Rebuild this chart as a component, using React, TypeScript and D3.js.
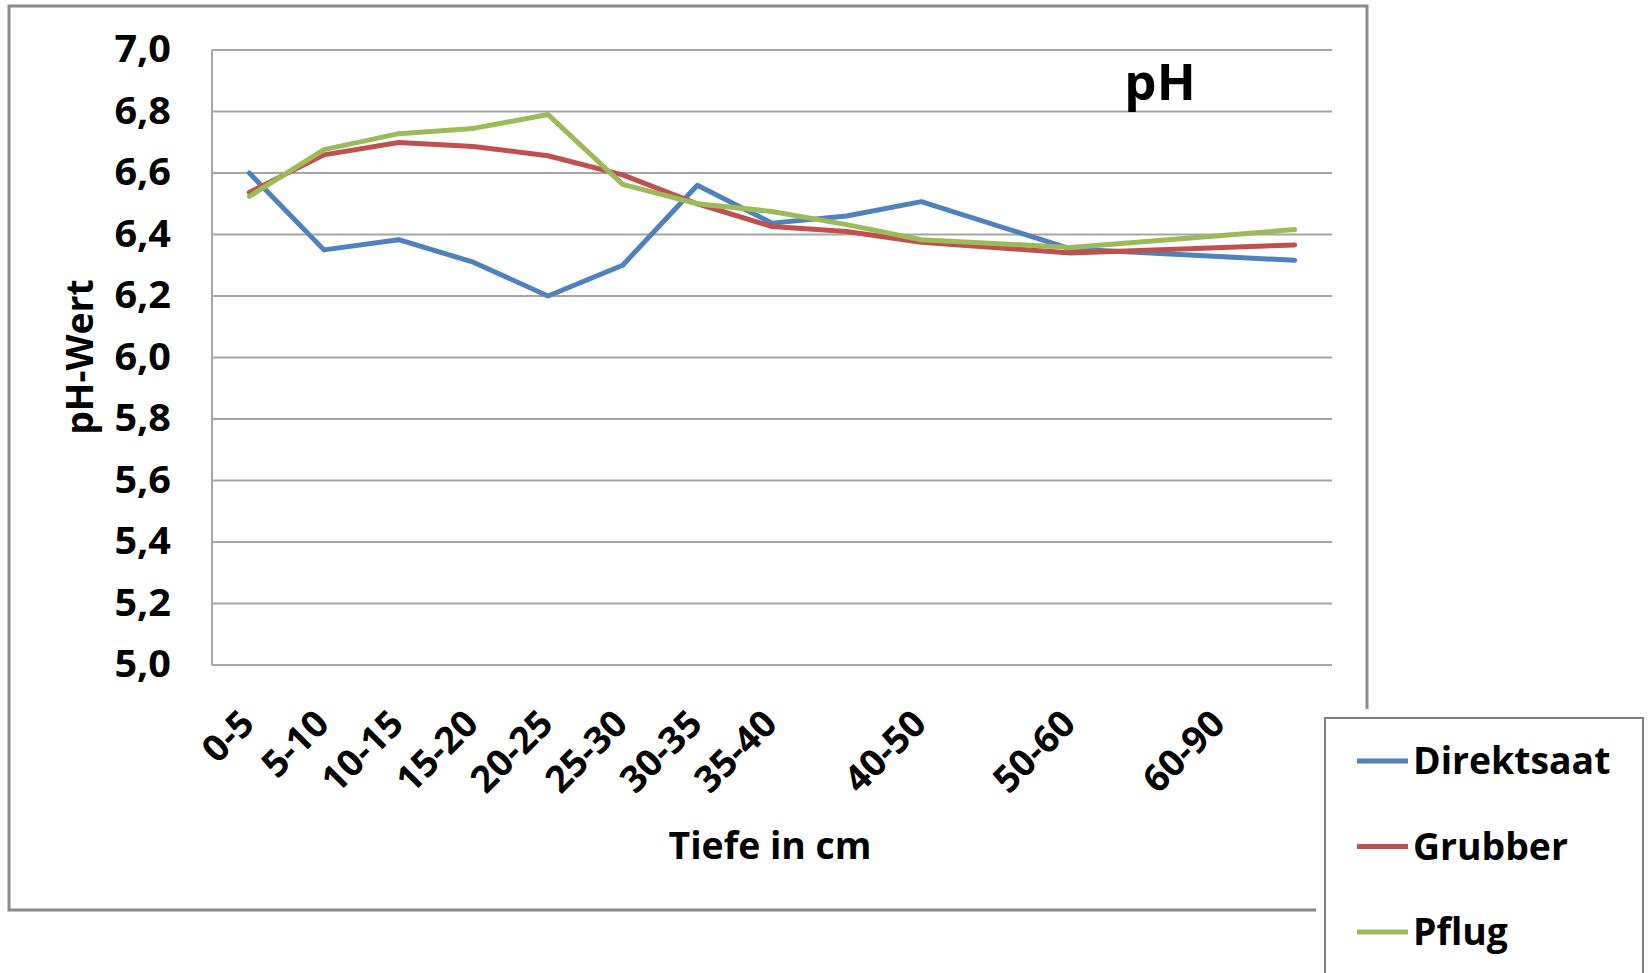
import React from "react";
import * as d3 from "d3";

const categories = ["0-5", "5-10", "10-15", "15-20", "20-25", "25-30", "30-35", "35-40", "", "40-50", "", "50-60", "", "60-90", ""];
const direktsaat = [6.6, 6.35, 6.383, 6.31, 6.2, 6.3, 6.56, 6.437, 6.46, 6.507, null, 6.353, null, null, 6.316];
const grubber = [6.537, 6.659, 6.699, 6.686, 6.656, 6.594, 6.5, 6.426, 6.41, 6.375, null, 6.34, null, null, 6.366];
const pflug = [6.524, 6.676, 6.728, 6.745, 6.79, 6.563, 6.5, 6.475, 6.432, 6.383, null, 6.358, null, null, 6.416];
const seriesNames = ["Direktsaat", "Grubber", "Pflug"];
const seriesColors = ["#4F81BD", "#C0504D", "#9BBB59"];
const yTicks = [5.0, 5.2, 5.4, 5.6, 5.8, 6.0, 6.2, 6.4, 6.6, 6.8, 7.0];
const chartTitle = "pH";
const yTitle = "pH-Wert";
const xTitle = "Tiefe in cm";

const FONT = "'Open Sans', 'Lato', sans-serif";
const SX = 1.01;

function T(props: { x: number; y: number; rot?: number; anchor?: string; size: number; sx?: number; children: any }) {
  const { x, y, rot = 0, anchor = "start", size, sx = SX, children } = props;
  return (
    <text
      transform={`translate(${x},${y}) rotate(${rot}) scale(${sx},1)`}
      textAnchor={anchor}
      fontFamily={FONT}
      fontWeight={700}
      fontSize={size}
      fill="#000"
    >
      {children}
    </text>
  );
}

export default function App() {
  const W = 1648;
  const H = 973;
  const x = d3.scaleBand<number>().domain(d3.range(categories.length)).range([212, 1332]).padding(0);
  const cx = (i: number) => (x(i) as number) + x.bandwidth() / 2;
  const y = d3.scaleLinear().domain([5, 7]).range([665, 50]);
  const fmt = (v: number) => d3.format(".1f")(v).replace(".", ",");
  const allSeries = [direktsaat, grubber, pflug];
  const line = d3
    .line<[number, number]>()
    .x((d) => cx(d[0]))
    .y((d) => y(d[1]));

  return (
    <svg width={W} height={H} style={{ position: "absolute", left: 0, top: 0, background: "#fff" }}>
      <rect x={0} y={0} width={W} height={H} fill="#fff" />
      <rect x={9} y={6} width={1358} height={904} fill="#fff" stroke="#8a8a8a" strokeWidth={3} />
      {yTicks.map((t) => (
        <line key={t} x1={212} x2={1332} y1={y(t)} y2={y(t)} stroke="#a6a6a6" strokeWidth={2} />
      ))}
      <line x1={212} x2={212} y1={y(7)} y2={y(5)} stroke="#a6a6a6" strokeWidth={2} />
      {yTicks.map((t) => (
        <T key={"l" + t} x={171} y={y(t) + 12} anchor="end" size={37} sx={1.07}>
          {fmt(t)}
        </T>
      ))}
      {categories.map((c, i) =>
        c ? (
          <T key={"c" + i} x={cx(i) + 7} y={726} rot={-45} anchor="end" size={37}>
            {c}
          </T>
        ) : null
      )}
      {allSeries.map((s, k) => {
        const pts = s.map((v, i) => [i, v] as [number, number | null]).filter((d) => d[1] != null) as [number, number][];
        return (
          <path key={k} d={line(pts) || ""} fill="none" stroke={seriesColors[k]} strokeWidth={5} strokeLinejoin="round" strokeLinecap="round" />
        );
      })}
      <T x={1160} y={100} anchor="middle" size={51} sx={1}>
        {chartTitle}
      </T>
      <T x={93} y={357} rot={-90} anchor="middle" size={37}>
        {yTitle}
      </T>
      <T x={770} y={859} anchor="middle" size={37}>
        {xTitle}
      </T>
      <rect x={1316} y={709} width={340} height={300} fill="#fff" />
      <rect x={1325} y={718} width={318} height={280} fill="#fff" stroke="#7f7f7f" strokeWidth={2} />
      {seriesNames.map((n, k) => {
        const ly = 761 + k * 85.5;
        return (
          <g key={n}>
            <line x1={1357} x2={1408} y1={ly} y2={ly} stroke={seriesColors[k]} strokeWidth={5} />
            <T x={1413} y={ly + 13} size={37}>
              {n}
            </T>
          </g>
        );
      })}
    </svg>
  );
}
